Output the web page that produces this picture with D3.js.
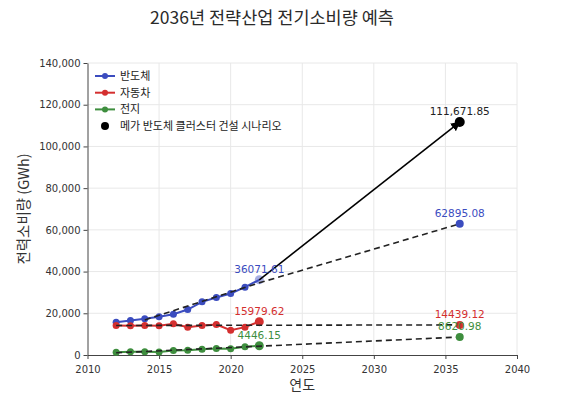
<!DOCTYPE html>
<html>
<head>
<meta charset="utf-8">
<script src="https://cdn.jsdelivr.net/npm/d3@7"></script>
<style>
  body { margin: 0; background: #fff; }
  svg { display: block; }
</style>
</head>
<body>
<svg class="chart" width="563" height="397"></svg>
<script>
// data
const years = [2012, 2013, 2014, 2015, 2016, 2017, 2018, 2019, 2020, 2021, 2022];
const semi = [15700, 16500, 17350, 18300, 19550, 21800, 25500, 27600, 29500, 32500, 36071.61];
const auto = [14150, 14000, 14100, 14050, 14950, 13350, 14150, 14600, 11900, 13350, 15979.62];
const battery = [1350, 1500, 1500, 1400, 2150, 2300, 2800, 3100, 3000, 3900, 4446.15];

const forecastYear = 2036;
const semiForecast = 62895.08;
const autoForecast = 14439.12;
const batteryForecast = 8620.98;
const megaForecast = 111671.85;

// dashed trend lines [year, value]
const semiTrend = [[2014, 16800], [2022, 34600], [2036, 62895.08]];
const autoTrend = [[2012, 14150], [2036, 14439.12]];
const batteryTrend = [[2012, 1050], [2036, 8620.98]];

const xTicks = [2010, 2015, 2020, 2025, 2030, 2035, 2040];
const yTicks = [0, 20000, 40000, 60000, 80000, 100000, 120000, 140000];

const legendNames = ['반도체', '자동차', '전지', '메가 반도체 클러스터 건설 시나리오'];

const BLUE = '#3b4cbf', RED = '#d42f2f', GREEN = '#3e8e3e';
const KFONT = "'Noto Sans CJK KR', 'Noto Sans', sans-serif";
const NFONT = "'DejaVu Sans', sans-serif";

let svg = d3.select('.chart');

let x = d3.scaleLinear().domain([2010, 2040]).range([87.5, 517]);
let y = d3.scaleLinear().domain([0, 140000]).range([355, 63]);

// title
svg.append('text')
    .attr('x', 272).attr('y', 24)
    .attr('text-anchor', 'middle')
    .attr('font-family', KFONT)
    .attr('font-size', 17.5)
    .attr('fill', '#2a2a2a')
    .text('2036년 전략산업 전기소비량 예측');

// grid
let grid = svg.append('g').attr('stroke', '#e8e8e8').attr('stroke-width', 1);
grid.selectAll('.gx').data(xTicks.slice(1))
    .join('line')
    .attr('x1', d => x(d)).attr('x2', d => x(d))
    .attr('y1', y(140000)).attr('y2', y(0));
grid.selectAll('.gy').data(yTicks.slice(1))
    .join('line')
    .attr('x1', x(2010)).attr('x2', x(2040))
    .attr('y1', d => y(d)).attr('y2', d => y(d));

// axes
let xAxis = svg.append('g')
    .attr('transform', `translate(0,${y(0)})`)
    .call(d3.axisBottom(x).tickValues(xTicks).tickFormat(d3.format('d')).tickSize(4).tickSizeOuter(0));
let yAxis = svg.append('g')
    .attr('transform', `translate(${x(2010)},0)`)
    .call(d3.axisLeft(y).tickValues(yTicks).tickFormat(d3.format(',')).tickSize(4).tickSizeOuter(0));
[xAxis, yAxis].forEach(a => {
    a.selectAll('path, line').attr('stroke', '#444');
    a.selectAll('text').attr('font-family', NFONT).attr('font-size', 10).attr('fill', '#333');
});
xAxis.selectAll('text').attr('dy', '1.05em');

// axis titles
svg.append('text')
    .attr('x', x(2025)).attr('y', 390)
    .attr('text-anchor', 'middle')
    .attr('font-family', KFONT).attr('font-size', 14).attr('fill', '#333')
    .text('연도');
svg.append('text')
    .attr('transform', `translate(29,${y(70000)}) rotate(-90)`)
    .attr('text-anchor', 'middle')
    .attr('font-family', KFONT).attr('font-size', 14.5).attr('fill', '#333')
    .text('전력소비량 (GWh)');

let line = d3.line().x(d => x(d[0])).y(d => y(d[1]));

// series
const series = [
    {vals: semi, color: BLUE, fc: semiForecast, trend: semiTrend},
    {vals: auto, color: RED, fc: autoForecast, trend: autoTrend},
    {vals: battery, color: GREEN, fc: batteryForecast, trend: batteryTrend}
];

series.forEach(s => {
    let pts = years.map((yr, i) => [yr, s.vals[i]]);
    svg.append('path')
        .attr('d', line(pts))
        .attr('fill', 'none')
        .attr('stroke', s.color)
        .attr('stroke-width', 2);
    svg.append('g').selectAll('circle')
        .data(pts)
        .join('circle')
        .attr('cx', d => x(d[0])).attr('cy', d => y(d[1]))
        .attr('r', (d, i) => i === pts.length - 1 ? 4.5 : 3.5)
        .attr('fill', s.color)
        .attr('fill-opacity', (d, i) => (i === pts.length - 1 && s.color === BLUE) ? 0.45 : 1);
});

// dashed trends
series.forEach(s => {
    svg.append('path')
        .attr('d', line(s.trend))
        .attr('fill', 'none')
        .attr('stroke', '#222')
        .attr('stroke-width', 1.6)
        .attr('stroke-dasharray', '6,4');
});

// mega scenario arrow
svg.append('defs').append('marker')
    .attr('id', 'arrow')
    .attr('viewBox', '0 0 10 10')
    .attr('refX', 9).attr('refY', 5)
    .attr('markerWidth', 6).attr('markerHeight', 6)
    .attr('orient', 'auto')
    .append('path')
    .attr('d', 'M0,0L10,5L0,10Z')
    .attr('fill', '#000');
svg.append('path')
    .attr('d', line([[2022, semi[semi.length - 1]], [forecastYear, megaForecast]]))
    .attr('stroke', '#000')
    .attr('stroke-width', 1.6)
    .attr('marker-end', 'url(#arrow)');

// forecast points
series.forEach(s => {
    svg.append('circle')
        .attr('cx', x(forecastYear)).attr('cy', y(s.fc))
        .attr('r', 4).attr('fill', s.color);
});
svg.append('circle')
    .attr('cx', x(forecastYear)).attr('cy', y(megaForecast))
    .attr('r', 5).attr('fill', '#000');

// value labels
const labels = [
    {yr: 2022, v: semi[semi.length - 1], t: '36071.61', c: BLUE},
    {yr: 2022, v: auto[auto.length - 1], t: '15979.62', c: RED},
    {yr: 2022, v: battery[battery.length - 1], t: '4446.15', c: GREEN},
    {yr: forecastYear, v: semiForecast, t: '62895.08', c: BLUE},
    {yr: forecastYear, v: autoForecast, t: '14439.12', c: RED},
    {yr: forecastYear, v: batteryForecast, t: '8620.98', c: GREEN},
    {yr: forecastYear, v: megaForecast, t: '111,671.85', c: '#222'}
];
svg.append('g').selectAll('text')
    .data(labels)
    .join('text')
    .attr('x', d => x(d.yr))
    .attr('y', d => y(d.v) - 7)
    .attr('text-anchor', 'middle')
    .attr('font-family', NFONT)
    .attr('font-size', 10.5)
    .attr('fill', d => d.c)
    .text(d => d.t);

// legend
const legendColors = [BLUE, RED, GREEN, '#000'];
let lg = svg.append('g').attr('transform', 'translate(95,76)');
legendNames.forEach((name, i) => {
    let row = lg.append('g').attr('transform', `translate(0,${i * 16.7})`);
    if (i < 3) {
        row.append('line').attr('x1', 0).attr('x2', 20).attr('y1', 0).attr('y2', 0)
            .attr('stroke', legendColors[i]).attr('stroke-width', 2);
        row.append('circle').attr('cx', 10).attr('cy', 0).attr('r', 3).attr('fill', legendColors[i]);
    } else {
        row.append('circle').attr('cx', 10).attr('cy', 0).attr('r', 4).attr('fill', '#000');
    }
    row.append('text')
        .attr('x', 25).attr('y', 4)
        .attr('font-family', KFONT).attr('font-size', 11).attr('fill', '#222')
        .text(name);
});
</script>
</body>
</html>
